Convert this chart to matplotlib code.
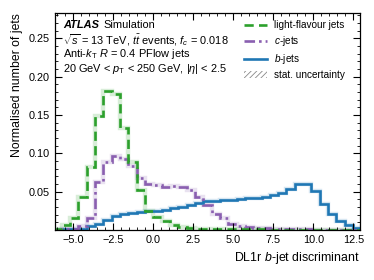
import numpy as np
import matplotlib
matplotlib.use("Agg")
import matplotlib.pyplot as plt
from matplotlib.lines import Line2D
from matplotlib.patches import Patch
from matplotlib.ticker import MultipleLocator

plt.rcParams['font.family'] = ['Liberation Sans', 'DejaVu Sans']
plt.rcParams['mathtext.fontset'] = 'custom'
plt.rcParams['mathtext.rm'] = 'Liberation Sans'
plt.rcParams['mathtext.it'] = 'Liberation Sans:italic'
plt.rcParams['mathtext.bf'] = 'Liberation Sans:bold'
plt.rcParams['hatch.linewidth'] = 0.6

# bin edges of the DL1r histogram
bin_edges = np.linspace(-6.25, 13.0, 38)

light_jets = [0.0013, 0.0065, 0.016, 0.043, 0.082, 0.148, 0.181, 0.177, 0.133, 0.089,
              0.052, 0.024, 0.017, 0.011, 0.0065, 0.0043, 0.0025, 0.0015, 0.0012, 0.0010,
              0.0009, 0.0008, 0.0007, 0.0006, 0.0005, 0.0005, 0.0004, 0.0004, 0.0003, 0.0003,
              0.0002, 0.0002, 0.0002, 0.0001, 0.0001, 0.0001, 0.0001]
c_jets = [0.0003, 0.0005, 0.0015, 0.005, 0.015, 0.063, 0.088, 0.097, 0.092, 0.083,
          0.068, 0.060, 0.058, 0.056, 0.057, 0.056, 0.052, 0.043, 0.032, 0.021,
          0.015, 0.008, 0.005, 0.0035, 0.0025, 0.002, 0.0013, 0.001, 0.0008, 0.0006,
          0.0005, 0.0004, 0.0003, 0.0003, 0.0002, 0.0002, 0.0001]
b_jets = [0.0003, 0.0005, 0.0008, 0.0015, 0.0045, 0.008, 0.013, 0.018, 0.0205, 0.022,
          0.023, 0.024, 0.0245, 0.026, 0.028, 0.030, 0.032, 0.035, 0.0375, 0.038,
          0.039, 0.039, 0.040, 0.041, 0.042, 0.0434, 0.0456, 0.048, 0.053, 0.0598,
          0.0598, 0.0505, 0.034, 0.021, 0.0115, 0.006, 0.003]

c_light = '#2ca02c'
c_c = '#8a5fb0'
c_b = '#1f77b4'

fig = plt.figure(figsize=(3.74, 2.80), dpi=100)
ax = fig.add_axes([0.146, 0.179, 0.817, 0.775])

lw = 1.9
for vals, col in [(b_jets, c_b), (c_jets, c_c), (light_jets, c_light)]:
    ax.stairs(vals, bin_edges, color=col, lw=3.2, alpha=0.18, baseline=None)

ax.stairs(b_jets, bin_edges, color=c_b, lw=lw, baseline=None)
ax.stairs(c_jets, bin_edges, color=c_c, lw=lw, baseline=None,
          linestyle=(0, (4, 1.5, 1, 1.5)))
ax.stairs(light_jets, bin_edges, color=c_light, lw=lw, baseline=None,
          linestyle=(0, (3.5, 2)))

ax.set_xlim(-6.17, 12.92)
ax.set_ylim(0, 0.283)
ax.set_xticks([-5.0, -2.5, 0.0, 2.5, 5.0, 7.5, 10.0, 12.5])
ax.set_xticklabels(['\u22125.0', '\u22122.5', '0.0', '2.5', '5.0', '7.5', '10.0', '12.5'])
ax.set_yticks([0.05, 0.10, 0.15, 0.20, 0.25])
ax.set_yticklabels(['0.05', '0.10', '0.15', '0.20', '0.25'])
ax.xaxis.set_minor_locator(MultipleLocator(0.5))
ax.yaxis.set_minor_locator(MultipleLocator(0.01))
ax.tick_params(which='both', direction='in', top=True, right=True, labelsize=7.8)
ax.tick_params(which='major', length=5, width=0.8)
ax.tick_params(which='minor', length=2.5, width=0.6)
for s in ax.spines.values():
    s.set_linewidth(0.9)

ax.set_xlabel('DL1r $b$-jet discriminant', fontsize=8.9, ha='right', x=1.0)
ax.set_ylabel('Normalised number of jets', fontsize=8.8, ha='right', y=1.0)

tx = 0.028
fs = 7.9
ax.text(tx, 0.945, 'ATLAS', transform=ax.transAxes, fontsize=fs,
        fontweight='bold', style='italic', va='center')
ax.text(0.16, 0.945, 'Simulation', transform=ax.transAxes, fontsize=fs, va='center')
ax.text(tx, 0.876, r'$\sqrt{s}$ = 13 TeV, $t\bar{t}$ events, $f_c$ = 0.018',
        transform=ax.transAxes, fontsize=fs, va='center')
ax.text(tx, 0.812, r'Anti-$k_{\mathrm{T}}$ $R$ = 0.4 PFlow jets',
        transform=ax.transAxes, fontsize=fs, va='center')
ax.text(tx, 0.742, r'20 GeV < $p_{\mathrm{T}}$ < 250 GeV, |$\eta$| < 2.5',
        transform=ax.transAxes, fontsize=fs, va='center')

handles = [
    Line2D([], [], color=c_light, lw=lw, linestyle=(0, (3.5, 2))),
    Line2D([], [], color=c_c, lw=lw, linestyle=(0, (4, 1.5, 1, 1.5))),
    Line2D([], [], color=c_b, lw=lw),
    Patch(facecolor='none', edgecolor='#888888', hatch='//////', lw=0),
]
labels = ['light-flavour jets', '$c$-jets', '$b$-jets', 'stat. uncertainty']
ax.legend(handles, labels, loc='upper right', frameon=False, fontsize=7.2,
          handlelength=2.3, handletextpad=0.7, labelspacing=0.4,
          bbox_to_anchor=(0.975, 1.0), borderaxespad=0.25, borderpad=0.5)

fig.savefig('out.png', dpi=100)
